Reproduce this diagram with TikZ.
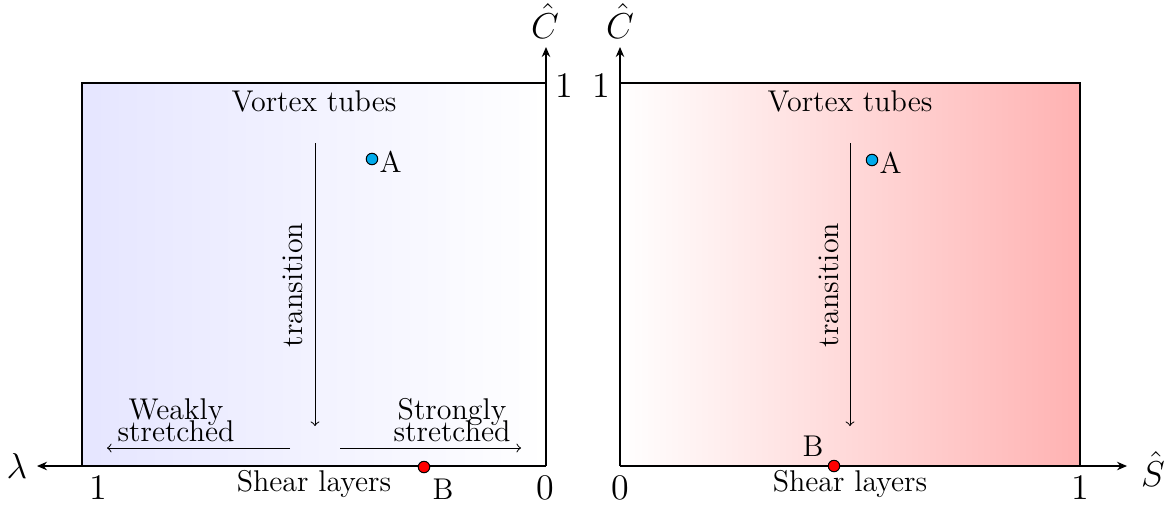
\documentclass[tikz,border=0pt]{standalone}
\usetikzlibrary{arrows.meta}
\definecolor{ptA}{RGB}{0,170,235}
\begin{document}
\begin{tikzpicture}[x=0.4pt,y=-0.4pt,
  axisline/.style={line width=0.5pt,-{Stealth[length=4pt,width=3.4pt]}},
  boxline/.style={line width=0.5pt},
  flow/.style={line width=0.4pt,-to},
  lab/.style={inner sep=0pt,font=\large},
  num/.style={inner sep=0pt,font=\Large},
  pt/.style={circle,draw=black,line width=0.4pt,inner sep=0pt,minimum size=4.6pt}]
\useasboundingbox (0,0) rectangle (1173,508);
% ---------- left panel ----------
\shade[left color=blue!10,right color=white] (82,83) rectangle (546,466);
\coordinate (LBL) at (82,466);
\coordinate (LTL) at (82,83);
\coordinate (LTR) at (546,83);
\draw[boxline] (LBL) -- (LTL) -- (LTR);
\coordinate (LO) at (546,466);
\coordinate (LX) at (37,466);
\coordinate (LY) at (546,47);
\draw[axisline] (LO) -- (LX);
\draw[axisline] (LO) -- (LY);
\node[num] (lam) at (17,466) {$\lambda$};
\node[num] (LCh) at (545,21) {$\hat{C}$};
\node[num] (L1t) at (564,86) {$1$};
\node[num] (L1b) at (98,488) {$1$};
\node[num] (L0b) at (545,488) {$0$};
\node[lab] (LVt) at (314,101) {Vortex tubes};
\node[lab] (LSl) at (314,484) {Shear layers};
\coordinate (LT1) at (315,143);
\coordinate (LT2) at (315,426);
\draw[flow] (LT1) -- (LT2);
\node[lab,rotate=90] (Ltr) at (293,285) {transition};
\node[pt,fill=ptA] (LA) at (372,159) {};
\node[lab,anchor=west] (LAl) at (379,162) {A};
\node[pt,fill=red] (LB) at (424,467) {};
\node[lab] (LBl) at (443,489) {B};
\coordinate (LW1) at (290,448);
\coordinate (LW2) at (107,448);
\draw[flow] (LW1) -- (LW2);
\node[lab,align=center] (LWt) at (176,420) {Weakly\\[-5pt]stretched};
\coordinate (LS1) at (340,448);
\coordinate (LS2) at (521,448);
\draw[flow] (LS1) -- (LS2);
\node[lab,align=center] (LSt) at (452,420) {Strongly\\[-5pt]stretched};
% ---------- right panel ----------
\shade[left color=white,right color=red!30] (620,83) rectangle (1080,466);
\coordinate (RTL) at (620,83);
\coordinate (RTR) at (1080,83);
\coordinate (RBR) at (1080,466);
\draw[boxline] (RTL) -- (RTR) -- (RBR);
\coordinate (RO) at (620,466);
\coordinate (RX) at (1127,466);
\coordinate (RY) at (620,47);
\draw[axisline] (RO) -- (RX);
\draw[axisline] (RO) -- (RY);
\node[num] (RCh) at (620,21) {$\hat{C}$};
\node[num] (RSh) at (1153,469) {$\hat{S}$};
\node[num] (R1t) at (601,86) {$1$};
\node[num] (R0b) at (620,488) {$0$};
\node[num] (R1b) at (1080,488) {$1$};
\node[lab] (RVt) at (850,101) {Vortex tubes};
\node[lab] (RSl) at (850,484) {Shear layers};
\coordinate (RT1) at (850,143);
\coordinate (RT2) at (850,426);
\draw[flow] (RT1) -- (RT2);
\node[lab,rotate=90] (Rtr) at (829,285) {transition};
\node[pt,fill=ptA] (RA) at (872,160) {};
\node[lab,anchor=west] (RAl) at (879,163) {A};
\node[pt,fill=red] (RB) at (834,466) {};
\node[lab] (RBl) at (813,446) {B};
\end{tikzpicture}
\end{document}
